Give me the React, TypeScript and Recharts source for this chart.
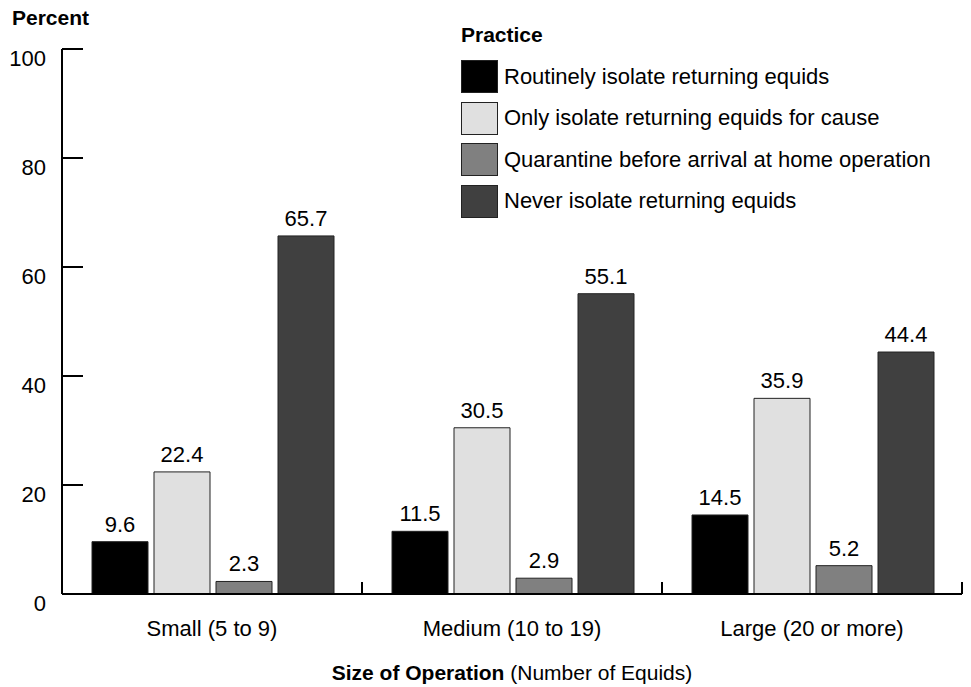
import React from "react";
import { BarChart, Bar, XAxis, YAxis, LabelList, Legend, Label } from "recharts";

const FONT = '"Liberation Sans", Arial, Helvetica, sans-serif';
const FS = 22;

const categories = ["Small (5 to 9)", "Medium (10 to 19)", "Large (20 or more)"];
const routinely = [9.6, 11.5, 14.5];
const forCause = [22.4, 30.5, 35.9];
const quarantine = [2.3, 2.9, 5.2];
const never = [65.7, 55.1, 44.4];
const yTicks = [0, 20, 40, 60, 80, 100];

const series = [
  { key: "routinely", name: "Routinely isolate returning equids", color: "#000000" },
  { key: "forCause", name: "Only isolate returning equids for cause", color: "#e0e0e0" },
  { key: "quarantine", name: "Quarantine before arrival at home operation", color: "#808080" },
  { key: "never", name: "Never isolate returning equids", color: "#404040" },
];

const data = categories.map((size, i) => ({
  size,
  routinely: routinely[i],
  forCause: forCause[i],
  quarantine: quarantine[i],
  never: never[i],
}));

// tick line is drawn inward by Recharts (negative tickSize); this only places the label
const YTick = (props: any) => {
  const { x, y, payload } = props;
  return (
    <text x={x} y={y + 17} textAnchor="end" fontSize={FS} fontFamily={FONT} fill="#000">
      {payload.value}
    </text>
  );
};

const XTick = (props: any) => {
  const { x, y, payload } = props;
  const half = payload.offset ?? 150;
  return (
    <g>
      <path d={`M${x + half},${y}V${y - 12}`} stroke="#000" strokeWidth={2} fill="none" />
      <text x={x} y={y + 42} textAnchor="middle" fontSize={FS} fontFamily={FONT} fill="#000">
        {payload.value}
      </text>
    </g>
  );
};

const LegendBox = () => (
  <div style={{ fontFamily: FONT, color: "#000" }}>
    <div style={{ fontWeight: "bold", fontSize: 21, lineHeight: "30px", height: 36 }}>Practice</div>
    {series.map((s) => (
      <div key={s.key} style={{ display: "flex", alignItems: "center", height: 41.5 }}>
        <div
          style={{
            width: 35,
            height: 31,
            background: s.color,
            border: "1px solid #222",
            marginRight: 6,
            flexShrink: 0,
          }}
        />
        <span style={{ fontSize: FS, whiteSpace: "nowrap" }}>{s.name}</span>
      </div>
    ))}
  </div>
);

export default function App() {
  return (
    <div style={{ position: "absolute", left: 0, top: 0, width: 971, height: 687, background: "#fff" }}>
      <BarChart
        width={971}
        height={687}
        data={data}
        margin={{ top: 49, right: 9, bottom: 33, left: 0 }}
        barCategoryGap="10%"
        barGap={6}
      >
        <YAxis
          type="number"
          domain={[0, 100]}
          ticks={yTicks}
          width={62}
          tickSize={-21}
          tickMargin={37}
          tickLine={{ stroke: "#000", strokeWidth: 2 }}
          axisLine={{ stroke: "#000", strokeWidth: 2 }}
          tick={(p: any) => <YTick {...p} />}
          interval={0}
        >
          <Label
            content={() => (
              <text x={12} y={25} fontSize={21} fontWeight="bold" fontFamily={FONT} fill="#000">
                Percent
              </text>
            )}
          />
        </YAxis>
        <XAxis
          dataKey="size"
          height={60}
          tickSize={0}
          tickMargin={0}
          tickLine={false}
          axisLine={{ stroke: "#000", strokeWidth: 2 }}
          tick={(p: any) => <XTick {...p} />}
          interval={0}
        >
          <Label
            content={(p: any) => {
              const vb = p.viewBox || {};
              return (
                <text
                  x={vb.x + vb.width / 2}
                  y={vb.y + 86}
                  textAnchor="middle"
                  fontSize={21}
                  fontFamily={FONT}
                  fill="#000"
                >
                  <tspan fontWeight="bold">Size of Operation</tspan>
                  <tspan> (Number of Equids)</tspan>
                </text>
              );
            }}
          />
        </XAxis>
        <Legend
          layout="vertical"
          align="center"
          verticalAlign="middle"
          wrapperStyle={{ top: 20, left: 461, width: 500 }}
          content={() => <LegendBox />}
        />
        {series.map((s) => (
          <Bar
            key={s.key}
            dataKey={s.key}
            name={s.name}
            fill={s.color}
            stroke="#222"
            strokeWidth={1}
            isAnimationActive={false}
          >
            <LabelList
              dataKey={s.key}
              position="top"
              offset={10}
              fontSize={FS}
              fontFamily={FONT}
              fill="#000"
            />
          </Bar>
        ))}
      </BarChart>
    </div>
  );
}
